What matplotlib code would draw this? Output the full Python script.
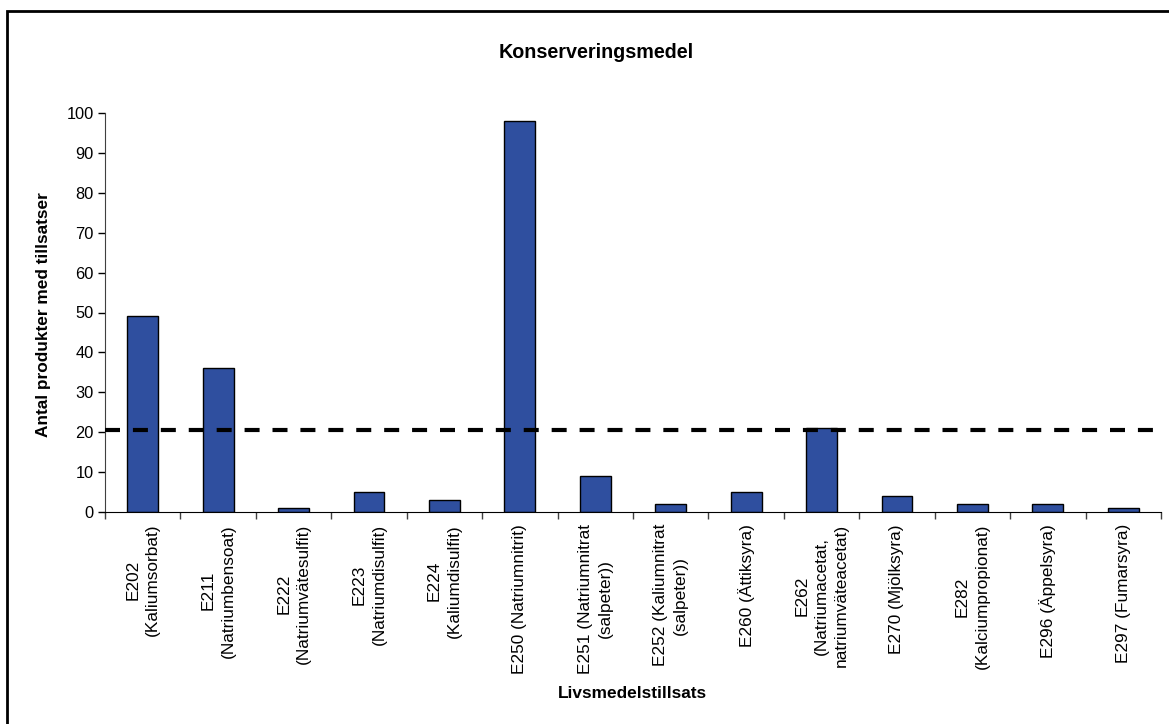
import matplotlib.pyplot as plt
from matplotlib.patches import Rectangle

plt.rcParams['font.family'] = ['Liberation Sans', 'DejaVu Sans']

# Konserveringsmedel: antal produkter per tillsats
tillsatser = [
    "E202\n(Kaliumsorbat)",
    "E211\n(Natriumbensoat)",
    "E222\n(Natriumvätesulfit)",
    "E223\n(Natriumdisulfit)",
    "E224\n(Kaliumdisulfit)",
    "E250 (Natriumnitrit)",
    "E251 (Natriumnitrat\n(salpeter))",
    "E252 (Kaliumnitrat\n(salpeter))",
    "E260 (Ättiksyra)",
    "E262\n(Natriumacetat,\nnatriumväteacetat)",
    "E270 (Mjölksyra)",
    "E282\n(Kalciumpropionat)",
    "E296 (Äppelsyra)",
    "E297 (Fumarsyra)",
]
antal = [49, 36, 1, 5, 3, 98, 9, 2, 5, 21, 4, 2, 2, 1]
referens = 20.5
yticks = list(range(0, 101, 10))

fig = plt.figure(figsize=(11.69, 7.24), dpi=100)
ax = fig.add_axes([105 / 1169, 1 - 512 / 724, (1161 - 105) / 1169, (512 - 113) / 724])

x = list(range(len(antal)))
ax.bar(x, antal, width=0.41, color='#2F4F9F', edgecolor='black', linewidth=1, zorder=2)
ax.hlines(referens, -0.5, 13.42, colors='black', linewidth=3,
          linestyles=(0, (3.6, 3.1)), zorder=3)

ax.set_xlim(-0.5, len(antal) - 0.5)
ax.set_ylim(0, 100)
ax.set_yticks(yticks)
ax.tick_params(axis='y', labelsize=11.8, length=5, width=1, direction='out', pad=3)

# kategoriavgränsande streck på x-axeln, etiketter mitt under staplarna
ax.set_xticks([i - 0.5 for i in range(len(antal) + 1)])
ax.set_xticklabels([])
ax.tick_params(axis='x', length=5, width=1, direction='out', colors='#404040')
for i, lbl in enumerate(tillsatser):
    ax.annotate(lbl, xy=(i, 0), xycoords=('data', 'axes fraction'),
                xytext=(0, -12), textcoords='offset pixels',
                rotation=90, ha='center', va='top', multialignment='center',
                fontsize=12.4, linespacing=1.4)

for side in ['top', 'right']:
    ax.spines[side].set_visible(False)
ax.spines['left'].set_color('#404040')
ax.spines['bottom'].set_color('black')

fig.text(596 / 1169, 1 - 52 / 724, 'Konserveringsmedel', ha='center', va='center',
         fontsize=14.2, fontweight='bold')
fig.text(44 / 1169, 1 - 315 / 724, 'Antal produkter med tillsatser', ha='center', va='center',
         rotation=90, fontsize=12.4, fontweight='bold')
fig.text(632 / 1169, 1 - 693 / 724, 'Livsmedelstillsats', ha='center', va='center',
         fontsize=12.4, fontweight='bold')

# ram runt hela diagrammet
fig.patches.append(Rectangle((7 / 1169, -0.05), 1.2, 1 - 11 / 724 + 0.05,
                             transform=fig.transFigure, fill=False,
                             edgecolor='black', linewidth=2))

plt.savefig('out.png', dpi=100)
